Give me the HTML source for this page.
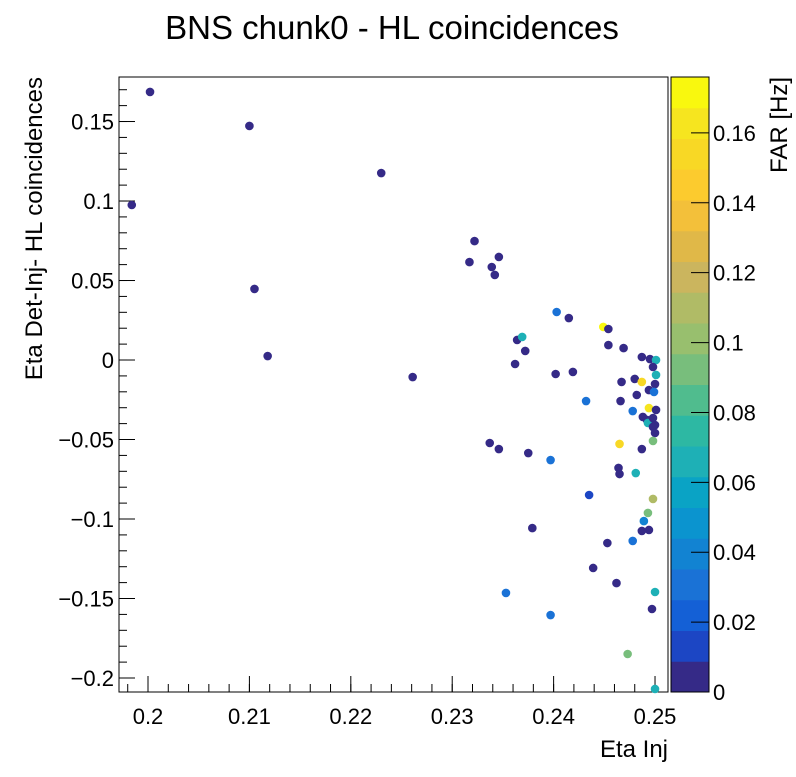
<!DOCTYPE html>
<html><head><meta charset="utf-8"><style>
body{margin:0;background:#fff;}
svg text{font-family:"Liberation Sans",sans-serif;fill:#000;}
</style></head><body>
<svg id="chart" width="796" height="772" xmlns="http://www.w3.org/2000/svg">
<text x="392" y="39" font-size="33" text-anchor="middle">BNS chunk0 - HL coincidences</text>
<g id="plot"></g>
<text x="668" y="757" font-size="24" text-anchor="end">Eta Inj</text>
<text transform="translate(42,77) rotate(-90)" font-size="24" text-anchor="end">Eta Det-Inj- HL coincidences</text>
<text transform="translate(787,77) rotate(-90)" font-size="24" text-anchor="end">FAR [Hz]</text>
</svg>
<script>
const etaInj=[0.2002,0.2100,0.2230,0.1984,0.2105,0.2118,0.2261,0.2317,0.2322,0.2339,0.2346,0.2342,0.2364,0.2369,0.2372,0.2362,0.2337,0.2346,0.2375,0.2379,0.2353,0.2403,0.2415,0.2449,0.2454,0.2454,0.2469,0.2487,0.2495,0.2501,0.2498,0.2501,0.2402,0.2419,0.2467,0.2480,0.2487,0.2500,0.2494,0.2499,0.2482,0.2432,0.2466,0.2478,0.2494,0.2501,0.2488,0.2492,0.2493,0.2498,0.2500,0.2498,0.2500,0.2498,0.2465,0.2487,0.2397,0.2464,0.2465,0.2481,0.2435,0.2498,0.2493,0.2489,0.2487,0.2494,0.2478,0.2453,0.2439,0.2462,0.2500,0.2497,0.2397,0.2473,0.2500];
const etaDiff=[0.1686,0.1472,0.1176,0.0975,0.0447,0.0025,-0.0107,0.0616,0.0748,0.0585,0.0648,0.0535,0.0126,0.0145,0.0057,-0.0025,-0.0522,-0.0560,-0.0585,-0.1057,-0.1465,0.0302,0.0264,0.0208,0.0195,0.0094,0.0075,0.0019,0.0006,0.0,-0.0044,-0.0094,-0.0088,-0.0075,-0.0138,-0.0119,-0.0138,-0.0151,-0.0189,-0.0201,-0.0220,-0.0258,-0.0258,-0.0321,-0.0302,-0.0314,-0.0358,-0.0377,-0.0396,-0.0365,-0.0409,-0.0421,-0.0459,-0.0509,-0.0528,-0.0560,-0.0629,-0.0679,-0.0717,-0.0711,-0.0849,-0.0874,-0.0962,-0.1013,-0.1075,-0.1069,-0.1138,-0.1151,-0.1308,-0.1403,-0.1459,-0.1566,-0.1604,-0.1849,-0.2069];
const far=[0.003,0.003,0.003,0.003,0.003,0.003,0.003,0.003,0.003,0.003,0.003,0.003,0.003,0.07,0.003,0.003,0.003,0.003,0.003,0.003,0.03,0.03,0.003,0.17,0.003,0.003,0.003,0.003,0.003,0.07,0.003,0.065,0.003,0.003,0.003,0.003,0.15,0.003,0.003,0.03,0.003,0.035,0.003,0.035,0.165,0.003,0.003,0.003,0.07,0.003,0.003,0.003,0.003,0.09,0.155,0.003,0.035,0.003,0.003,0.065,0.015,0.11,0.09,0.04,0.003,0.003,0.03,0.003,0.003,0.003,0.065,0.003,0.035,0.09,0.065];
const xTicks=[0.2,0.21,0.22,0.23,0.24,0.25];
const xTickLabels=["0.2","0.21","0.22","0.23","0.24","0.25"];
const yTicks=[-0.2,-0.15,-0.1,-0.05,0,0.05,0.1,0.15];
const yTickLabels=["\u22120.2","\u22120.15","\u22120.1","\u22120.05","0","0.05","0.1","0.15"];
const zTicks=[0,0.02,0.04,0.06,0.08,0.1,0.12,0.14,0.16];
const zTickLabels=["0","0.02","0.04","0.06","0.08","0.1","0.12","0.14","0.16"];
const palette=["#352a87","#1c46c4","#1460d6","#1a72d6","#1283d2","#0b94cf","#0aa3c5","#1eb0b6","#2db8a3","#50bc8e","#78be7c","#98bf6e","#b0bb66","#cbb55e","#e0b848","#f3c03a","#fccb2e","#f8d825","#f6e51f","#f9f80e"];
const L=119,R=668,T=77,B=692;
const xMin=0.19714,xMax=0.25128,yMin=-0.2088,yMax=0.178,zMax=0.176;
const X=v=>L+(v-xMin)/(xMax-xMin)*(R-L);
const Y=v=>B-(v-yMin)/(yMax-yMin)*(B-T);
const Z=v=>B-v/zMax*(B-T);
const NS='http://www.w3.org/2000/svg';
const g=document.getElementById('plot');
function mk(t,a){const e=document.createElementNS(NS,t);for(const k in a)e.setAttribute(k,a[k]);g.appendChild(e);return e;}
const fr=mk('rect',{x:L,y:T,width:R-L,height:B-T,fill:'none',stroke:'#000','stroke-width':1});


for(let v=0.198;v<=0.2511;v+=0.002){const x=X(v);const t=mk('line',{x1:x,x2:x,y1:B,y2:B-8,stroke:'#000'});

}
xTicks.forEach((v,i)=>{const x=X(v);const t=mk('line',{x1:x,x2:x,y1:B,y2:B-16,stroke:'#000'});


const l=mk('text',{x:x,y:B+32,'font-size':22,'text-anchor':'middle'});l.textContent=xTickLabels[i];

});
for(let v=-0.2;v<=0.175;v+=0.01){const y=Y(v);const t=mk('line',{x1:L,x2:L+8,y1:y,y2:y,stroke:'#000'});

}
yTicks.forEach((v,i)=>{const y=Y(v);const t=mk('line',{x1:L,x2:L+16,y1:y,y2:y,stroke:'#000'});


const l=mk('text',{x:L-5,y:y+8,'font-size':22,'text-anchor':'end'});l.textContent=yTickLabels[i];

});
const band=zMax/palette.length;
palette.forEach((c,i)=>{const r=mk('rect',{x:671,y:Z((i+1)*band),width:38,height:Z(i*band)-Z((i+1)*band)+0.5,fill:c});

});
const cb=mk('rect',{x:671,y:T,width:38,height:B-T,fill:'none',stroke:'#000'});


zTicks.forEach((v,i)=>{const y=Z(v);const t=mk('line',{x1:691,x2:709,y1:y,y2:y,stroke:'#000'});


const l=mk('text',{x:713,y:y+8,'font-size':22});l.textContent=zTickLabels[i];

});
etaInj.forEach((v,i)=>{const idx=Math.min(palette.length-1,Math.floor(far[i]/band));
const c=mk('circle',{cx:X(v),cy:Y(etaDiff[i]),r:4.3,fill:palette[idx]});

});
</script>
</body></html>
